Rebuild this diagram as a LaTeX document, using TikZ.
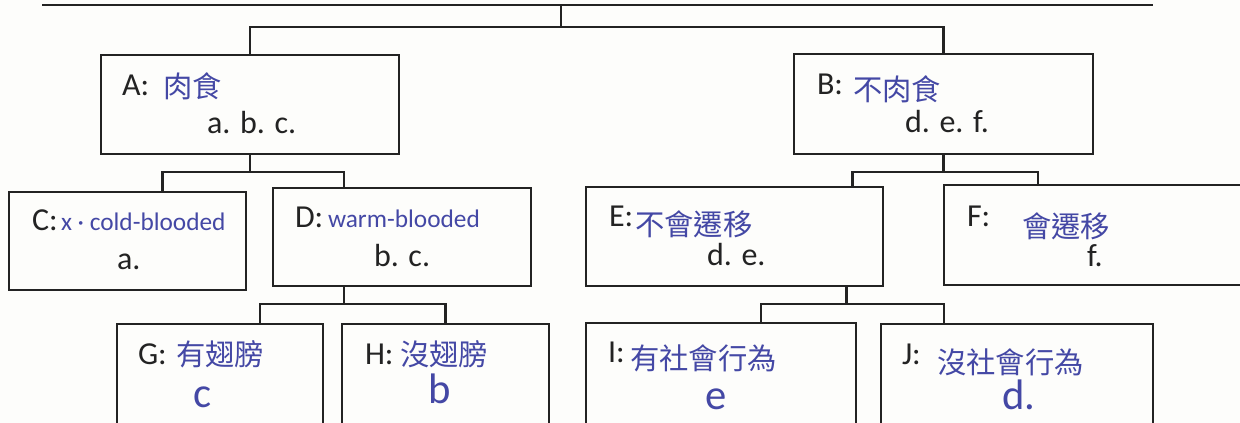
\documentclass[tikz,border=0pt]{standalone}
\usepackage{fontspec}
\usepackage{xcolor}
\setmainfont{Carlito}
\newfontfamily\cjk{Noto Sans CJK TC}
\usetikzlibrary{calc}

\definecolor{paperColor}{RGB}{253,253,251}
\definecolor{inkColor}{RGB}{35,35,35}
\definecolor{penColor}{RGB}{68,72,165}

\tikzset{
  box/.style 2 args={draw=inkColor, line width=2pt, rectangle, inner sep=0pt, outer sep=0pt,
    anchor=north west, minimum width=#1*0.75pt, minimum height=#2*0.75pt},
  link/.style={draw=inkColor, line width=2pt},
  lab/.style={text=inkColor, anchor=base west, inner sep=0pt, outer sep=0pt, font=\fontsize{24}{29}\selectfont},
  pen/.style={text=penColor, anchor=base west, inner sep=0pt, outer sep=0pt, font=\cjk\fontsize{22}{26}\selectfont},
  penword/.style={text=penColor, anchor=base west, inner sep=0pt, outer sep=0pt, font=\fontsize{19}{23}\selectfont},
  penletter/.style={text=penColor, anchor=base west, inner sep=0pt, outer sep=0pt, font=\fontsize{32}{36}\selectfont}
}

\begin{document}
\begin{tikzpicture}[x=0.75pt,y=-0.75pt]
\path[use as bounding box,fill=paperColor] (0,0) rectangle (1240,423);

% boxes
\node[box={298}{99}] (A) at (101,55) {};
\node[box={299}{100}] (B) at (794,54) {};
\node[box={237}{98}] (C) at (9,192) {};
\node[box={258}{98}] (D) at (273,188) {};
\node[box={297}{99}] (E) at (586,187) {};
\node[box={316}{100}] (F) at (944,185) {};
\node[box={206}{116}] (G) at (117,324) {};
\node[box={207}{116}] (H) at (342,324) {};
\node[box={270}{117}] (I) at (586,323) {};
\node[box={272}{116}] (J) at (881,324) {};

% texts
\node[lab] (labA) at (122,96) {A:};
\node[pen] (handA) at (163,98) {肉食};
\node[lab] (itemA) at (207,134) {a. b. c.};

\node[lab] (labB) at (817,95) {B:};
\node[pen] (handB) at (853,101) {不肉食};
\node[lab] (itemB) at (905,133) {d. e. f.};

\node[lab] (labC) at (32,231) {C:};
\node[penword] (handC) at (61,231) {x · cold-blooded};
\node[lab] (itemC) at (117,270) {a.};

\node[lab] (labD) at (295,228) {D:};
\node[penword] (handD) at (328,228) {warm-blooded};
\node[lab] (itemD) at (374,267) {b. c.};

\node[lab] (labE) at (609,227) {E:};
\node[pen] (handE) at (635,236) {不會遷移};
\node[lab] (itemE) at (707,266) {d. e.};

\node[lab] (labF) at (967,227) {F:};
\node[pen] (handF) at (1022,238) {會遷移};
\node[lab] (itemF) at (1087,267) {f.};

\node[lab] (labG) at (138,365) {G:};
\node[pen] (handG) at (176,366) {有翅膀};
\node[penletter] (itemG) at (193,408) {c};

\node[lab] (labH) at (365,365) {H:};
\node[pen] (handH) at (400,366) {沒翅膀};
\node[penletter] (itemH) at (428,404) {b};

\node[lab] (labI) at (608,363) {I:};
\node[pen] (handI) at (630,370) {有社會行為};
\node[penletter] (itemI) at (705,410) {e};

\node[lab] (labJ) at (902,365) {J:};
\node[pen] (handJ) at (937,374) {沒社會行為};
\node[penletter] (itemJ) at (1002,410) {d.};

% tree lines
\coordinate (topL) at (42,5);
\coordinate (topR) at (1153,5);
\coordinate (root) at (561,5);
\coordinate (lvl1) at (0,27);
\coordinate (lvl2) at (0,172);
\coordinate (lvl3) at (0,304);
\draw[link] (topL) -- (topR);
\draw[link] (root) -- (root |- lvl1);
\draw[link] (A.north) |- (B.north |- lvl1) -- (B.north);

\coordinate (dC) at ($(C.north)+(35,0)$);
\coordinate (dD) at ($(D.north)+(-58,0)$);
\draw[link] (A.south) -- (A.south |- lvl2);
\draw[link] (dC) |- (lvl2 -| dD) -- (dD);

\coordinate (dE) at ($(E.north)+(118,0)$);
\coordinate (dF) at ($(F.north)+(-64,0)$);
\draw[link] (B.south) -- (B.south |- lvl2);
\draw[link] (dE) |- (lvl2 -| dF) -- (dF);

\coordinate (sD) at ($(D.south)+(-58,0)$);
\coordinate (dG) at ($(G.north)+(40,0)$);
\draw[link] (sD) -- (sD |- lvl3);
\draw[link] (dG) |- (lvl3 -| H.north) -- (H.north);

\coordinate (sE) at ($(E.south)+(112,0)$);
\coordinate (dI) at ($(I.north)+(40,0)$);
\coordinate (dJ) at ($(J.north)+(-73,0)$);
\draw[link] (sE) -- (sE |- lvl3);
\draw[link] (dI) |- (lvl3 -| dJ) -- (dJ);
\end{tikzpicture}
\end{document}
